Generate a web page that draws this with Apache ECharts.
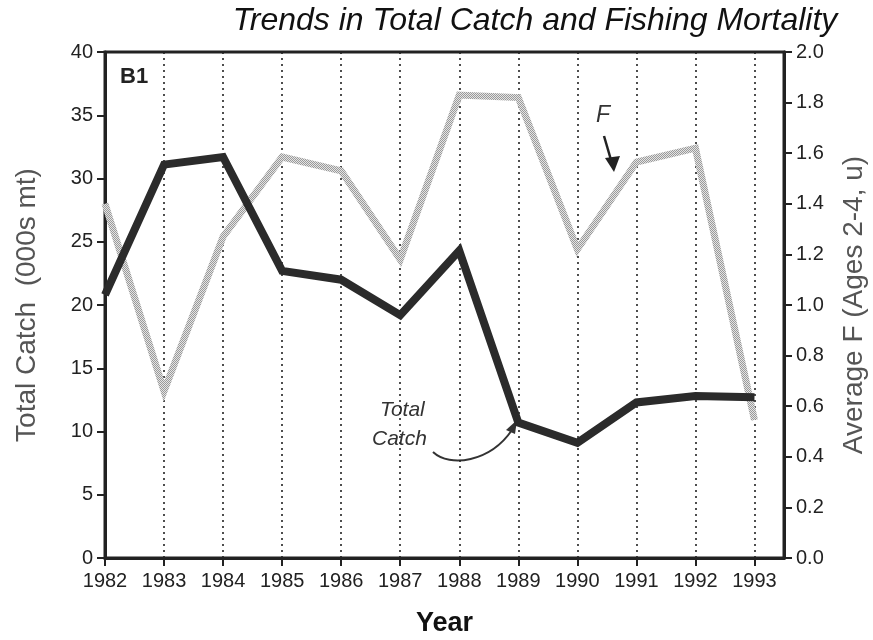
<!DOCTYPE html>
<html>
<head>
<meta charset="utf-8">
<script src="https://cdn.jsdelivr.net/npm/echarts@6/dist/echarts.min.js"></script>
<style>
  html, body { margin: 0; padding: 0; background: #fff; }
  #chart { width: 873px; height: 640px; }
</style>
</head>
<body>
<div id="chart"></div>
<script>
// data
var years = [1982, 1983, 1984, 1985, 1986, 1987, 1988, 1989, 1990, 1991, 1992, 1993];
var totalCatch = [20.8, 31.1, 31.7, 22.7, 22.0, 19.2, 24.3, 10.7, 9.1, 12.3, 12.8, 12.7];
var avgF = [1.40, 0.66, 1.27, 1.585, 1.53, 1.18, 1.83, 1.82, 1.22, 1.565, 1.62, 0.545];
var leftTicks = [0, 5, 10, 15, 20, 25, 30, 35, 40];
var rightTicks = [0.0, 0.2, 0.4, 0.6, 0.8, 1.0, 1.2, 1.4, 1.6, 1.8, 2.0];

var FONT = '"Liberation Sans", Arial, sans-serif';

// stippled gray for the F line (halftone look)
function stipple() {
  var c = document.createElement('canvas');
  c.width = 2; c.height = 2;
  var ctx = c.getContext('2d');
  ctx.fillStyle = '#e4e4e4';
  ctx.fillRect(0, 0, 2, 2);
  ctx.fillStyle = '#9a9a9a';
  ctx.fillRect(0, 0, 1, 1);
  ctx.fillRect(1, 1, 1, 1);
  return c;
}

var chart = echarts.init(document.getElementById('chart'), null, { renderer: 'canvas' });

function pairs(xs, ys) {
  return xs.map(function (x, i) { return [x, ys[i]]; });
}

var op = {
  backgroundColor: '#fff',
  animation: false,
  title: {
    text: 'Trends in Total Catch and Fishing Mortality',
    left: 530,
    top: 0,
    textAlign: 'center',
    textStyle: { fontFamily: FONT, fontStyle: 'italic', fontWeight: 'normal', fontSize: 32, color: '#111' }
  },
  grid: {
    left: 105, right: 89, top: 52, bottom: 82,
    outerBoundsMode: 'none',
    show: true, borderColor: '#222', borderWidth: 3, backgroundColor: 'transparent'
  },
  xAxis: {
    type: 'value',
    min: 1982, max: 1993.5, interval: 1,
    name: 'Year',
    nameLocation: 'middle',
    nameGap: 52,
    nameTextStyle: { fontFamily: FONT, fontWeight: 'bold', fontSize: 27, color: '#111' },
    axisLine: { show: true, lineStyle: { color: '#222', width: 3 } },
    axisTick: { show: true, length: 8, customValues: years, lineStyle: { color: '#222', width: 2 } },
    axisLabel: {
      customValues: years,
      margin: 13,
      fontFamily: FONT, fontSize: 20, color: '#222',
      formatter: function (v) { return String(Math.round(v)); }
    },
    splitLine: { show: true, lineStyle: { color: '#222', width: 1.6, type: [2, 4] } }
  },
  yAxis: [
    {
      type: 'value',
      min: 0, max: 40, interval: 5,
      position: 'left',
      name: 'Total Catch  (000s mt)',
      nameLocation: 'middle',
      nameGap: 64,
      nameTextStyle: { fontFamily: FONT, fontSize: 28, color: '#555' },
      axisLine: { show: true, lineStyle: { color: '#222', width: 3 } },
      axisTick: { show: true, length: 8, lineStyle: { color: '#222', width: 2 } },
      axisLabel: {
        customValues: leftTicks,
        margin: 12, fontFamily: FONT, fontSize: 20, color: '#222'
      },
      splitLine: { show: false }
    },
    {
      type: 'value',
      min: 0, max: 2, interval: 0.2,
      position: 'right',
      name: 'Average F (Ages 2-4, u)',
      nameLocation: 'middle',
      nameGap: 56,
      nameRotate: 90,
      nameTextStyle: { fontFamily: FONT, fontSize: 28, color: '#555' },
      axisLine: { show: true, lineStyle: { color: '#222', width: 3 } },
      axisTick: { show: true, length: 8, lineStyle: { color: '#222', width: 2 } },
      axisLabel: {
        customValues: rightTicks,
        margin: 12, fontFamily: FONT, fontSize: 20, color: '#222',
        formatter: function (v) { return v.toFixed(1); }
      },
      splitLine: { show: false }
    }
  ],
  series: [
    {
      name: 'F',
      type: 'line',
      yAxisIndex: 1,
      data: pairs(years, avgF),
      symbol: 'none',
      lineStyle: { color: { image: stipple(), repeat: 'repeat' }, width: 7, join: 'miter' },
      z: 2
    },
    {
      name: 'Total Catch',
      type: 'line',
      yAxisIndex: 0,
      data: pairs(years, totalCatch),
      symbol: 'none',
      lineStyle: { color: '#2b2b2b', width: 8, join: 'miter' },
      z: 3
    }
  ],
  graphic: [
    { type: 'text', left: 120, top: 66, style: { text: 'B1', font: 'bold 22px ' + FONT, fill: '#222' } },
    { type: 'text', left: 596, top: 104, style: { text: 'F', font: 'italic 23px ' + FONT, fill: '#333' } },
    { type: 'line', shape: { x1: 604, y1: 136, x2: 611, y2: 160 }, style: { stroke: '#222', lineWidth: 2.5 } },
    { type: 'polygon', shape: { points: [[605, 158], [620, 156], [614, 172]] }, style: { fill: '#222' } },
    { type: 'text', left: 380, top: 400, style: { text: 'Total', font: 'italic 21px ' + FONT, fill: '#333' } },
    { type: 'text', left: 372, top: 429, style: { text: 'Catch', font: 'italic 21px ' + FONT, fill: '#333' } },
    {
      type: 'bezierCurve',
      shape: { x1: 433, y1: 452, cpx1: 450, cpy1: 468, cpx2: 490, cpy2: 462, x2: 512, y2: 430 },
      style: { stroke: '#333', lineWidth: 2, fill: null }
    },
    { type: 'polygon', shape: { points: [[506, 430], [517, 420], [515, 434]] }, style: { fill: '#333' } }
  ]
};

chart.setOption(op);
</script>
</body>
</html>
